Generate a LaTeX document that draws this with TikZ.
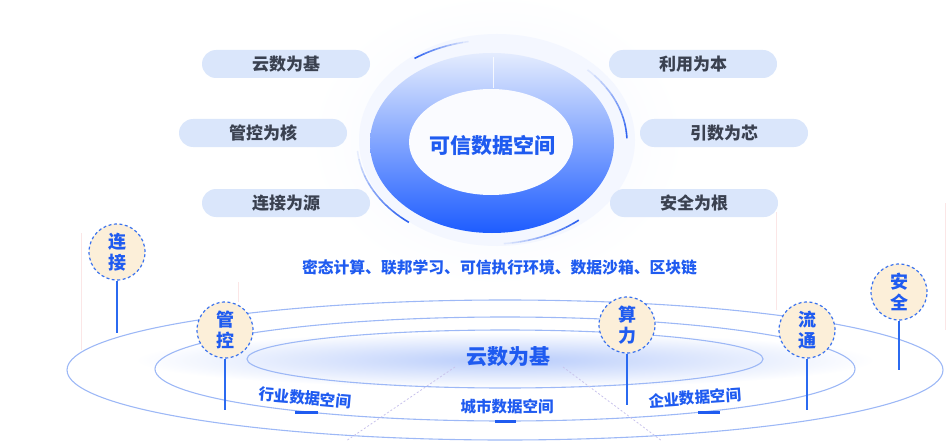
\documentclass[tikz,border=0pt]{standalone}
\usepackage{fontspec}
\setmainfont{Noto Sans CJK SC}
\definecolor{pillfill}{HTML}{DAE6FB}
\definecolor{pilltext}{HTML}{3A4150}
\definecolor{mainblue}{HTML}{1F5BF0}
\definecolor{orbit}{HTML}{9DB8F6}
\definecolor{badgefill}{HTML}{FCEFD9}
\definecolor{badgeline}{HTML}{3A72EE}
\definecolor{pinline}{HTML}{2B6AF0}
\definecolor{halo}{HTML}{F4F7FF}
\definecolor{ringtop}{HTML}{E4ECFE}
\definecolor{ringmid}{HTML}{8EADF9}
\definecolor{ringbot}{HTML}{1D5CFF}
\definecolor{arcblue}{HTML}{2F63F0}
\definecolor{faint}{HTML}{FBE6E6}
\definecolor{diag}{HTML}{C9C3EC}
\definecolor{glow}{HTML}{B8CCFB}
\begin{document}
\begin{tikzpicture}[x=1pt,y=1pt,
 pill/.style={fill=pillfill, rounded corners=14pt, minimum width=168pt, minimum height=28pt, inner sep=0pt, text=pilltext, font=\fontsize{17}{20}\selectfont\bfseries},
 badge/.style={circle, minimum size=56pt, fill=badgefill, draw=badgeline, line width=1.2pt, dash pattern=on 3pt off 2.5pt, inner sep=0pt, text=mainblue, font=\fontsize{18}{21}\selectfont\bfseries, align=center},
 pin/.style={draw=pinline, line width=1.5pt},
 orbitline/.style={draw=orbit, line width=1.1pt},
 spacelabel/.style={text=mainblue, font=\fontsize{15.5}{18}\selectfont\bfseries, inner sep=0pt},
 bar/.style={draw=mainblue, line width=3pt},
 faintline/.style={draw=faint, line width=0.8pt},
 diagline/.style={draw=diag, line width=0.8pt, dash pattern=on 2pt off 2pt},
 arcseg/.style={draw=arcblue, line width=1.6pt},
]
\useasboundingbox (0,0) rectangle (947,-441);

% faint vertical guide lines
\draw[faintline] (81,-233) -- (81,-350);
\draw[faintline] (238,-282) -- (238,-302);
\draw[faintline] (776,-212) -- (776,-310);
\draw[faintline] (945,-203) -- (945,-330);

% halo behind central ring
\shade[inner color=halo, outer color=white] (497,-140) ellipse [x radius=190, y radius=148];
\fill[halo] (497,-140) ellipse [x radius=138, y radius=106];

% glow under bottom title
\shade[inner color=glow, outer color=white] (505,-360) ellipse [x radius=370, y radius=28];

% orbits
\draw[orbitline] (505,-370) ellipse [x radius=438, y radius=70];
\draw[orbitline] (505,-369) ellipse [x radius=350, y radius=52];
\draw[orbitline] (505,-359) ellipse [x radius=258, y radius=29];

% dashed diagonals
\coordinate (d1a) at (455,-367); \coordinate (d1b) at (346,-441);
\coordinate (d2a) at (563,-367); \coordinate (d2b) at (662,-441);
\draw[diagline] (d1a) -- (d1b);
\draw[diagline] (d2a) -- (d2b);

% pills
\node[pill] (p1) at (286,-64) {云数为基};
\node[pill] (p2) at (263,-133) {管控为核};
\node[pill] (p3) at (286,-203) {连接为源};
\node[pill] (p4) at (693,-64) {利用为本};
\node[pill] (p5) at (724,-133) {引数为芯};
\node[pill] (p6) at (694,-203) {安全为根};

% central ring
\shade[top color=ringtop, middle color=ringmid, bottom color=ringbot] (492,-143) ellipse [x radius=122, y radius=90];
\fill[white!55!halo] (491,-142) ellipse [x radius=82, y radius=53];
\draw[white, line width=1pt, opacity=0.8] (493,-57) -- (493,-88);
\node[text=mainblue, font=\fontsize{21}{24}\selectfont\bfseries] (core) at (492,-145) {可信数据空间};

% thin arcs around ring (fading)
\foreach \a/\b in {100/125, 45/2, 185/232, 275/310} {
  \foreach \i in {0,...,9} {
    \pgfmathsetmacro{\s}{\a+(\b-\a)*\i/10}
    \pgfmathsetmacro{\e}{\a+(\b-\a)*(\i+1)/10}
    \pgfmathsetmacro{\o}{(\i+1)/10}
    \draw[arcseg, opacity=\o] ([shift={(\s:135 and 102)}]492,-142) arc[start angle=\s, end angle=\e, x radius=135, y radius=102];
  }
}

% technology line
\node[text=mainblue, font=\fontsize{15.8}{18}\selectfont\bfseries] (tech) at (499.5,-267) {密态计算、联邦学习、可信执行环境、数据沙箱、区块链};

% bottom title
\node[text=mainblue, font=\fontsize{21}{24}\selectfont\bfseries] (base) at (508,-357) {云数为基};

% space labels
\node[spacelabel, rotate=-5] (l1) at (305,-398) {行业数据空间};
\node[spacelabel] (l2) at (507,-407) {城市数据空间};
\node[spacelabel, rotate=4] (l3) at (695,-398) {企业数据空间};
\coordinate (b1a) at (295,-412); \coordinate (b1b) at (318,-412);
\coordinate (b2a) at (495,-421); \coordinate (b2b) at (516,-421);
\coordinate (b3a) at (698,-412); \coordinate (b3b) at (720,-412);
\draw[bar] (b1a) -- (b1b);
\draw[bar] (b2a) -- (b2b);
\draw[bar] (b3a) -- (b3b);

% badges with pins
\node[badge] (c1) at (117,-252) {连\\接};
\node[badge] (c2) at (225,-330) {管\\控};
\node[badge] (c3) at (627,-325) {算\\力};
\node[badge] (c4) at (807,-330) {流\\通};
\node[badge] (c5) at (899,-292) {安\\全};
\coordinate (e1) at (117,-333);
\coordinate (e2) at (225,-410);
\coordinate (e3) at (627,-405);
\coordinate (e4) at (807,-410);
\coordinate (e5) at (899,-370);
\draw[pin] (c1.south) -- (e1);
\draw[pin] (c2.south) -- (e2);
\draw[pin] (c3.south) -- (e3);
\draw[pin] (c4.south) -- (e4);
\draw[pin] (c5.south) -- (e5);
\end{tikzpicture}
\end{document}
